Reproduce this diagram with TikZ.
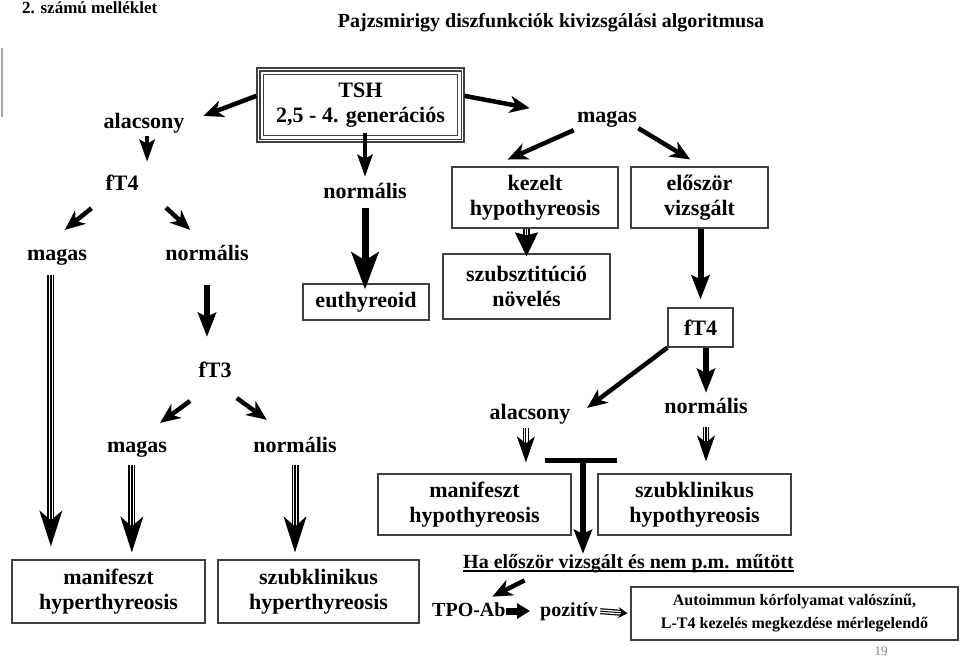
\documentclass[tikz,border=0pt]{standalone}
\usepackage{fontspec}
\setmainfont{Liberation Serif}
\usetikzlibrary{arrows.meta}
\tikzset{
  lbl/.style={anchor=base, inner sep=0pt, text height=15pt, text depth=5pt},
  small/.style={anchor=base west, inner sep=0pt, text height=14pt, text depth=4pt,
    font=\fontsize{20}{24}\selectfont\bfseries},
  box/.style={draw=black!75, line width=1.2pt, inner sep=0pt, align=center},
  arr/.style={line width=4.5pt, -{Stealth[length=20pt,width=17pt,inset=6pt]}},
  darr/.style={line width=4.5pt, -{Stealth[length=22pt,width=15pt,inset=4pt]}},
  harr/.style={line width=6pt, -{Stealth[length=24pt,width=18pt,inset=4pt]}},
  bigarr/.style={line width=7pt, -{Stealth[length=37pt,width=27pt,inset=8pt]}},
  blockarr/.style={line width=7pt, -{Triangle[length=13pt,width=15pt]}},
  trilong/.style={line width=1.4pt, shorten >=#1,
    -{Stealth[length=36pt,width=23pt,inset=10pt]},
    preaction={draw, -, line width=7pt, shorten >=#1+24pt},
    preaction={draw, -, white, line width=4.2pt, shorten >=#1+24pt}},
  trilong/.default=0pt,
  trishort/.style={line width=1.2pt, shorten >=#1,
    -{Stealth[length=26pt,width=18pt,inset=7pt]},
    preaction={draw, -, line width=6.5pt, shorten >=#1+17pt},
    preaction={draw, -, white, line width=3.8pt, shorten >=#1+17pt}},
  trishort/.default=0pt,
  trihead/.style={line width=1.2pt, shorten >=#1,
    -{Stealth[length=24pt,width=23pt,inset=3pt]},
    preaction={draw, -, line width=6.5pt, shorten >=#1+20pt},
    preaction={draw, -, white, line width=3.8pt, shorten >=#1+20pt}},
  trihead/.default=0pt,
  tritiny/.style={line width=1pt, shorten >=#1,
    -{Stealth[length=9pt,width=11pt,inset=3pt]},
    preaction={draw, -, line width=6pt, shorten >=#1+5pt},
    preaction={draw, -, white, line width=3.6pt, shorten >=#1+5pt}},
  tritiny/.default=0pt
}

\begin{document}
\begin{tikzpicture}[x=1pt, y=-1pt, font=\fontsize{22}{25}\selectfont\bfseries]
\useasboundingbox (0,0) rectangle (960,659);
% Headings
    \node[anchor=base west, inner sep=0pt, font=\fontsize{17}{20}\selectfont\bfseries] (annex) at (22,13) {2. számú melléklet};
    \node[anchor=base, inner sep=0pt, font=\fontsize{20}{24}\selectfont\bfseries] (title) at (551,27) {Pajzsmirigy diszfunkciók kivizsgálási algoritmusa};
    \draw[gray!70, line width=2.5pt] (2,48) -- (2,117);
% TSH
    \node[box, minimum width=207pt, minimum height=74pt] (tsh) at (360.5,105) {TSH\\2,5 - 4. generációs};
    \draw[black!75, line width=1.2pt] ([shift={(3.5pt,-3.5pt)}]tsh.north west) rectangle ([shift={(-3.5pt,3.5pt)}]tsh.south east);
    \draw[black!75, line width=1.6pt] ([shift={(7pt,-7pt)}]tsh.north west) rectangle ([shift={(-7pt,7pt)}]tsh.south east);
% Left branch
    \node[lbl] (alacL) at (144,128) {alacsony};
    \node[lbl] (ft4L) at (122,190) {fT4};
    \node[lbl] (magasL1) at (57,260) {magas};
    \node[lbl] (normL1) at (207,260) {normális};
    \node[lbl] (ft3) at (215,377) {fT3};
    \node[lbl] (magasL2) at (137,452) {magas};
    \node[lbl] (normL2) at (295,452) {normális};
    \node[box, minimum width=193pt, minimum height=63pt] (manifHyper) at (108.5,591.5) {manifeszt\\hyperthyreosis};
    \node[box, minimum width=201pt, minimum height=63pt] (szubHyper) at (318.5,591.5) {szubklinikus\\hyperthyreosis};
% Middle branch
    \node[lbl] (normM) at (365,198) {normális};
    \node[box, minimum width=126pt, minimum height=36pt] (euthy) at (366,302) {euthyreoid};
% Right branch
    \node[lbl] (magasR) at (607,122) {magas};
    \node[box, minimum width=166pt, minimum height=61pt] (kezelt) at (535,197.5) {kezelt\\hypothyreosis};
    \node[box, minimum width=137pt, minimum height=61pt] (eloszor) at (699.5,197.5) {először\\vizsgált};
    \node[box, minimum width=167pt, minimum height=65pt] (szubszt) at (526.5,286.5) {szubsztitúció\\növelés};
    \node[box, minimum width=65pt, minimum height=39pt] (ft4R) at (700.5,327.5) {fT4};
    \node[lbl] (alacR) at (530,419) {alacsony};
    \node[lbl] (normR) at (706,413) {normális};
    \node[box, minimum width=193pt, minimum height=61pt] (manifHypo) at (474.5,504.5) {manifeszt\\hypothyreosis};
    \node[box, minimum width=193pt, minimum height=61pt] (szubHypo) at (694.5,504.5) {szubklinikus\\hypothyreosis};
% Bottom line
    \node[small] (ha) at (463,568) {Ha először vizsgált és nem p.m. műtött};
    \draw[line width=1.5pt] ([yshift=-3pt]ha.base west) -- ([yshift=-3pt]ha.base east);
    \node[small] (tpo) at (432,616) {TPO-Ab};
    \node[small] (poz) at (540,616) {pozitív};
    \node[box, minimum width=327pt, minimum height=53pt, font=\fontsize{16}{23}\selectfont\bfseries] (autoimm) at (794.5,613.5) {Autoimmun kórfolyamat valószínű,\\L-T4 kezelés megkezdése mérlegelendő};
    \node[anchor=base, inner sep=0pt, gray, font=\fontsize{13}{15}\selectfont] (page) at (881,655) {19};
% Arrows from TSH
    \draw[arr, shorten >=20pt] (tsh.175) -- (alacL.east);
    \draw[darr, shorten <=-10pt, shorten >=6pt] (tsh.south -| normM.north) -- (normM.north);
    \draw[arr, shorten >=48pt] (tsh.5) -- (magasR.west);
% Left arrows
    \draw[darr, shorten <=3pt, shorten >=13pt] (alacL.287) -- (alacL.287 |- ft4L.north);
    \draw[arr, shorten <=20.6pt, shorten >=23.7pt] (ft4L.215) -- (magasL1.136);
    \draw[arr, shorten <=37pt, shorten >=22pt] (ft4L.8) -- (normL1.93);
    \draw[trilong=13pt, shorten <=10pt] (magasL1.239) -- (magasL1.239 |- manifHyper.north);
    \draw[harr, shorten <=20pt, shorten >=25pt] (normL1.south) -- (normL1.south |- ft3.north);
    \draw[arr, shorten <=32pt, shorten >=23.7pt] (ft3.275) -- (magasL2.69);
    \draw[arr, shorten <=27pt, shorten >=28.8pt] (ft3.south) -- (normL2.116);
    \draw[trilong=7pt, shorten <=8pt] (magasL2.243) -- (magasL2.243 |- manifHyper.north);
    \draw[trilong=7pt, shorten <=8pt] (normL2.south) -- (normL2.south |- szubHyper.north);
% Middle arrow
    \draw[bigarr, shorten <=5pt, shorten >=-6pt] (normM.south) -- (normM.south |- euthy.north);
% Right arrows
    \draw[arr, shorten <=7.3pt, shorten >=16.9pt] (magasR.201) -- (kezelt.144);
    \draw[arr, shorten <=2pt, shorten >=13.4pt] (magasR.341) -- (eloszor.86);
    \draw[trihead=-3pt] (kezelt.south -| szubszt.north) -- (szubszt.north);
    \draw[harr, shorten >=8pt] (eloszor.south -| ft4R.north) -- (ft4R.north);
    \draw[arr, shorten >=20.8pt] (ft4R.south west) -- (alacR.351);
    \draw[harr, shorten >=5pt] (ft4R.south -| normR.north) -- (normR.north);
    \draw[trishort=11pt, shorten <=4pt] (alacR.248) -- (alacR.248 |- manifHypo.north);
    \draw[trishort=12pt, shorten <=9pt] (normR.south) -- (normR.south |- szubHypo.north);
% T junction
    \coordinate (tbarL) at (545,460);
    \coordinate (tbarR) at (617,460);
    \coordinate (tbar) at (583,460);
    \draw[line width=5pt] (tbarL) -- (tbarR);
    \draw[harr] (tbar) -- (tbar |- ha.north);
% Bottom arrows
    \draw[arr, shorten <=18.3pt, shorten >=11.5pt] (ha.186) -- (tpo.35);
    \draw[blockarr, shorten >=10pt] (tpo.east) -- (poz.west);
    \draw[tritiny=3pt, shorten <=2pt] (poz.east) -- (autoimm.west);
\end{tikzpicture}
\end{document}
